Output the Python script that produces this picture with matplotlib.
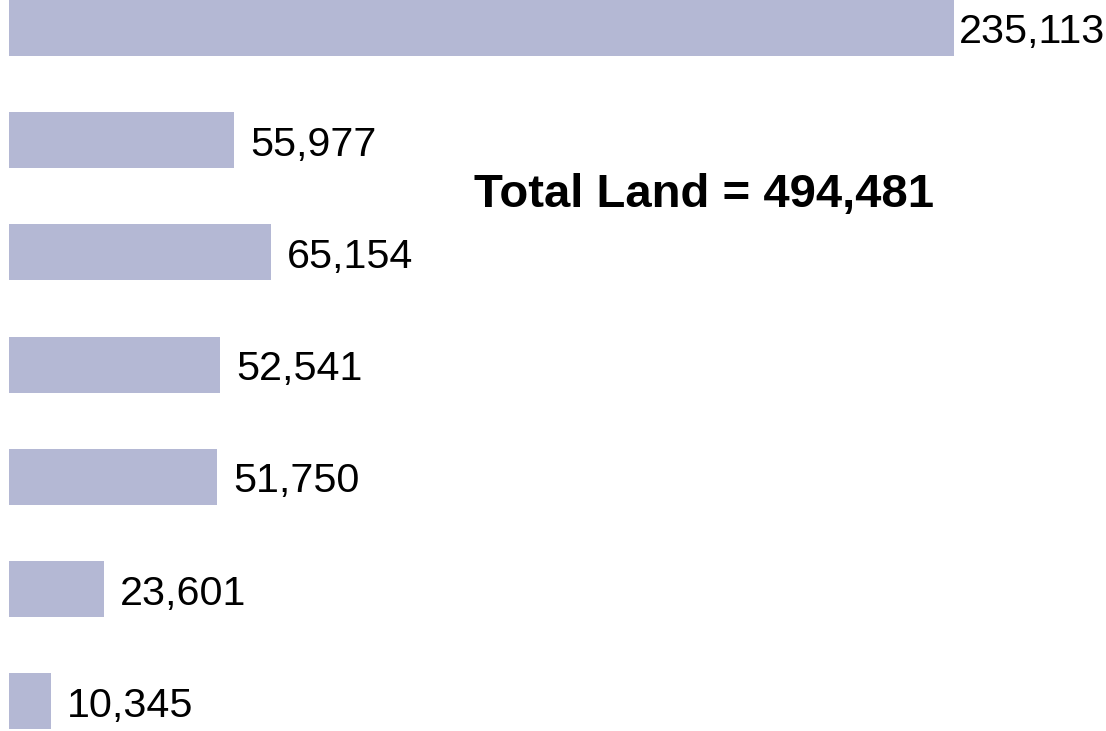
import matplotlib
matplotlib.use("Agg")
import matplotlib.pyplot as plt

values = [235113, 55977, 65154, 52541, 51750, 23601, 10345]
labels = ["235,113", "55,977", "65,154", "52,541", "51,750", "23,601", "10,345"]
total_text = "Total Land = 494,481"
bar_color = "#b4b8d4"

W, H = 1106, 731
fig = plt.figure(figsize=(W / 100, H / 100), dpi=100)
left_px = 9
ax = fig.add_axes([left_px / W, 0, 1 - left_px / W, 1])
ax.set_axis_off()

pos = list(range(len(values)))
ax.barh(pos, values, height=0.5, color=bar_color, linewidth=0)

px_per_unit = 945 / values[0]
ax.set_xlim(0, (W - left_px) / px_per_unit)
spacing = 112.2
top = 28 / spacing
ax.set_ylim((H - 28) / spacing, -top)

pt = 72 / 100  # points per pixel
fs = 29.7
for p, v, lab in zip(pos, values, labels):
    if v == max(values):
        # label would overflow the figure; keep it inside on the right
        ax.annotate(lab, (1, p), xycoords=("axes fraction", "data"),
                    xytext=(-1 * pt, -15.5 * pt), textcoords="offset points",
                    ha="right", va="baseline", fontsize=fs,
                    family="Liberation Sans", color="black")
    else:
        ax.annotate(lab, (v, p), xytext=(16 * pt, -15.5 * pt),
                    textcoords="offset points", ha="left", va="baseline",
                    fontsize=fs, family="Liberation Sans", color="black")

fig.text(704.5 / W, 1 - 207 / H, total_text, ha="center", va="baseline",
         fontsize=34, fontweight="bold", family="Liberation Sans", color="black")

fig.savefig("out.png", dpi=100)
